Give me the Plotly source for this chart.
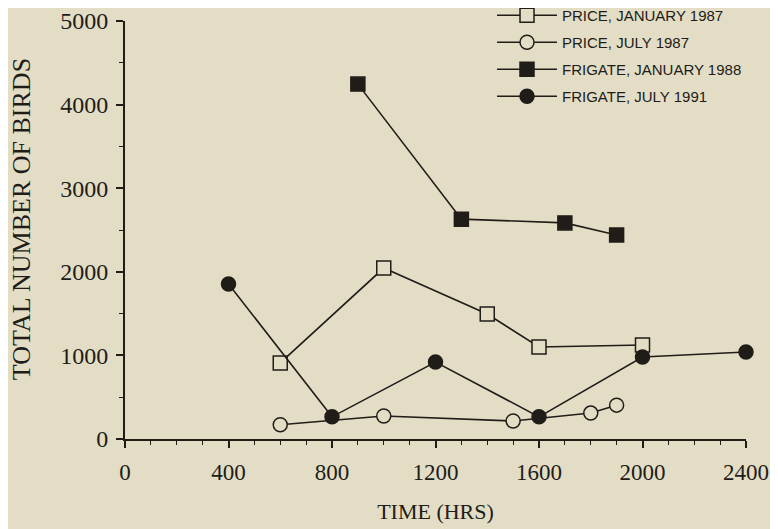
import plotly.graph_objects as go

# Data
price_jan_x = [600, 1000, 1400, 1600, 2000]
price_jan_y = [910, 2045, 1495, 1100, 1125]

price_jul_x = [600, 1000, 1500, 1800, 1900]
price_jul_y = [170, 275, 215, 310, 405]

frigate_jan_x = [900, 1300, 1700, 1900]
frigate_jan_y = [4245, 2630, 2585, 2440]

frigate_jul_x = [400, 800, 1200, 1600, 2000, 2400]
frigate_jul_y = [1855, 265, 920, 265, 980, 1040]

x_ticks = [0, 400, 800, 1200, 1600, 2000, 2400]
x_ticktext = ["0", "400", "800", "1200", "1600", "2000", "2400"]
y_ticks = [0, 1000, 2000, 3000, 4000, 5000]

BG = "#e4ddc6"
INK = "#201c18"

series = [
    ("PRICE, JANUARY 1987", price_jan_x, price_jan_y, "square", BG),
    ("PRICE, JULY 1987", price_jul_x, price_jul_y, "circle", BG),
    ("FRIGATE, JANUARY 1988", frigate_jan_x, frigate_jan_y, "square", INK),
    ("FRIGATE, JULY 1991", frigate_jul_x, frigate_jul_y, "circle", INK),
]

fig = go.Figure()
for i, (name, xs, ys, sym, fill) in enumerate(series):
    fig.add_trace(go.Scatter(
        x=xs, y=ys, name=name, mode="lines+markers",
        legendgroup=f"g{i}",
        line=dict(color=INK, width=1.6),
        marker=dict(symbol=sym, size=14, color=fill,
                    line=dict(color=INK, width=1.5)),
        cliponaxis=False,
    ))

serif = "Liberation Serif, Times New Roman, serif"

# page body has an 8px margin: figure is sized/offset to compensate
fig.update_layout(
    width=770, height=521,
    paper_bgcolor=BG, plot_bgcolor=BG,
    margin=dict(l=117, r=32, t=13, b=90, autoexpand=False),
    font=dict(family=serif, color=INK),
    showlegend=True,
    legend=dict(
        x=0.591, y=1.0526, xanchor="left", yanchor="top",
        bgcolor="rgba(0,0,0,0)",
        font=dict(family="Liberation Sans, Arial, sans-serif", size=15, color=INK),
        tracegroupgap=4.5,
        traceorder="grouped",
        itemwidth=60,
    ),
    xaxis=dict(
        range=[0, 2400], tickvals=x_ticks, ticktext=x_ticktext,
        showgrid=False, zeroline=False,
        showline=True, linecolor=INK, linewidth=2,
        ticks="outside", ticklen=7, tickwidth=1.5, tickcolor=INK,
        minor=dict(dtick=100, ticks="outside", ticklen=4, tickwidth=1.2, tickcolor=INK),
        tickfont=dict(family=serif, size=23, color=INK),
        ticklabelstandoff=4,
        title=dict(text="TIME (HRS)", font=dict(family=serif, size=22, color=INK), standoff=20),
    ),
    yaxis=dict(
        range=[0, 5000], tickvals=y_ticks,
        showgrid=False, zeroline=False,
        showline=True, linecolor=INK, linewidth=2,
        ticks="outside", ticklen=7, tickwidth=1.5, tickcolor=INK,
        minor=dict(dtick=500, ticks="outside", ticklen=4, tickwidth=1.2, tickcolor=INK),
        tickfont=dict(family=serif, size=24, color=INK),
        ticklabelstandoff=3,
    ),
    annotations=[dict(
        text="TOTAL NUMBER OF BIRDS", textangle=-90,
        xref="paper", yref="paper", x=0, y=0.526,
        xanchor="center", yanchor="middle", xshift=-104, showarrow=False,
        font=dict(family=serif, size=26, color=INK),
    )],
)

fig.write_html("out.html")
